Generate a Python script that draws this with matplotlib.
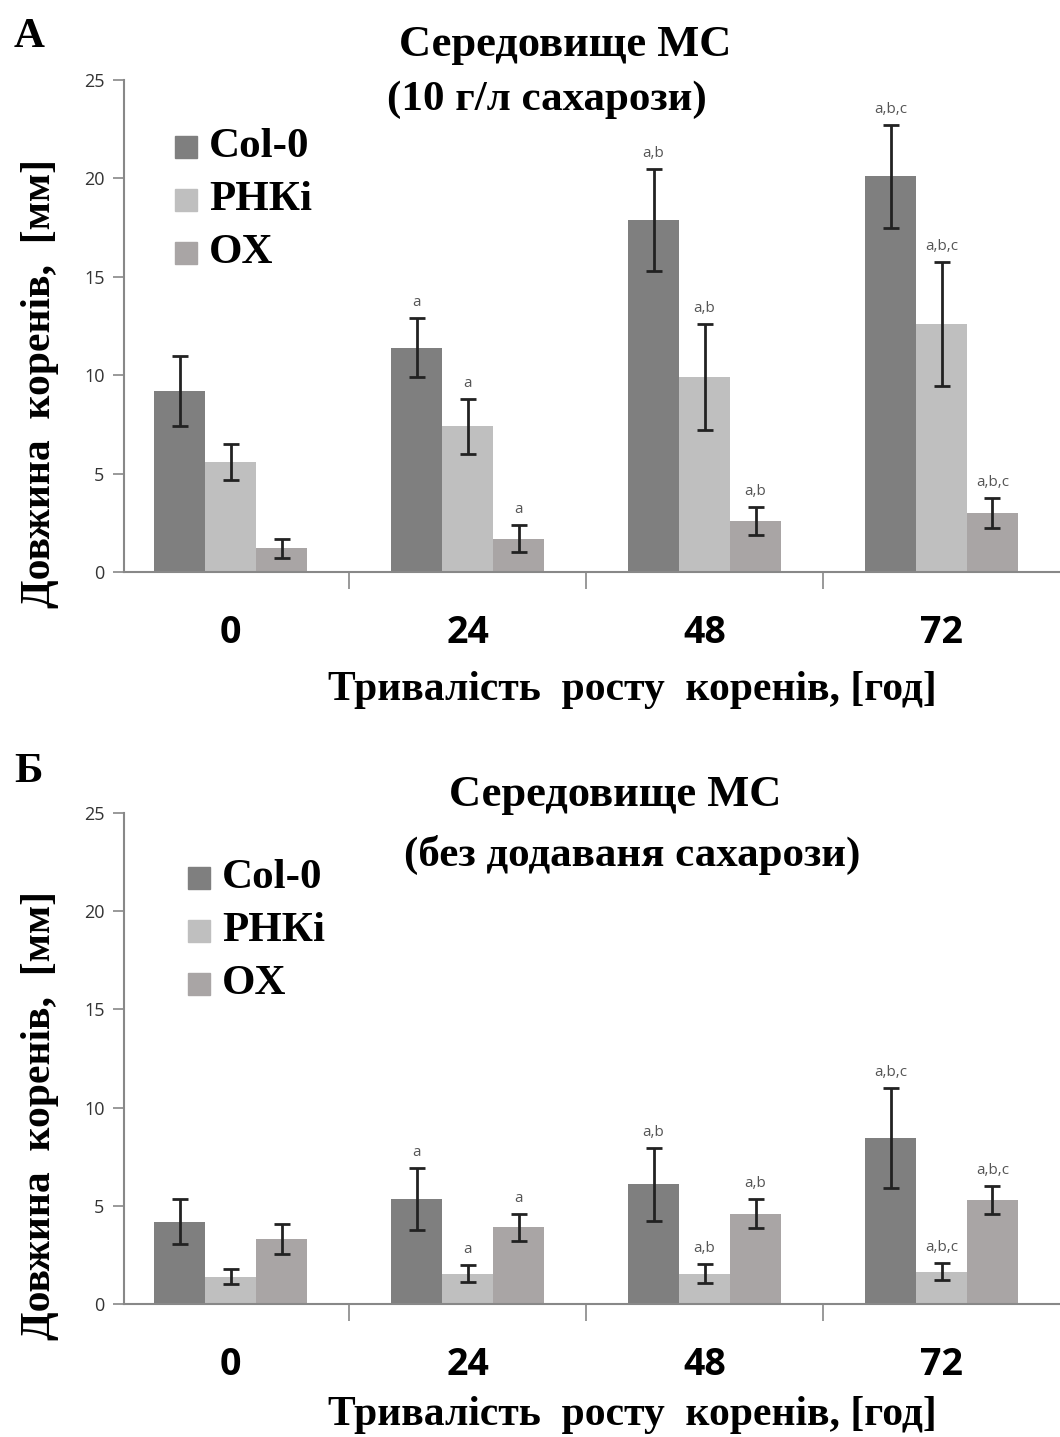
import matplotlib
matplotlib.use("Agg")
import matplotlib.pyplot as plt
import numpy as np

# root length, mm (mean and error) for each line at 0/24/48/72 h
hours = ["0", "24", "48", "72"]
lines = ["Col-0", "РНКi", "OX"]

# MS medium, 10 g/l sucrose
col_a = [9.2, 11.4, 17.9, 20.1]
col_a_err = [1.8, 1.5, 2.6, 2.6]
rnai_a = [5.6, 7.4, 9.9, 12.6]
rnai_a_err = [0.9, 1.4, 2.7, 3.15]
ox_a = [1.2, 1.7, 2.6, 3.0]
ox_a_err = [0.5, 0.7, 0.7, 0.75]

# MS medium, no sucrose
col_b = [4.2, 5.35, 6.1, 8.45]
col_b_err = [1.15, 1.6, 1.85, 2.55]
rnai_b = [1.4, 1.55, 1.55, 1.65]
rnai_b_err = [0.4, 0.45, 0.5, 0.45]
ox_b = [3.3, 3.9, 4.6, 5.3]
ox_b_err = [0.75, 0.7, 0.75, 0.7]

sig = ["", "a", "a,b", "a,b,c"]

colors = ["#7f7f7f", "#bfbfbf", "#a9a5a5"]

W, H = 1060, 1437
fig = plt.figure(figsize=(W / 100, H / 100), dpi=100)

serif = "Liberation Serif"
sans = "Open Sans"


def fx(px):
    return px / W


def fy(py):
    return 1 - py / H


def panel(top_px, bottom_px, series, errs, letter, letter_y, title1, title1_xy,
          title2, title2_xy, leg_x, leg_y, ylab_y, xlab_y):
    ax = fig.add_axes([fx(124), fy(bottom_px), fx(W - 124), (bottom_px - top_px) / H])
    x = np.arange(len(hours))
    bw = 0.215
    for i, (vals, err) in enumerate(zip(series, errs)):
        xs = x + (i - 1) * bw
        ax.bar(xs, vals, bw, color=colors[i], label=lines[i], zorder=2)
        ax.errorbar(xs, vals, yerr=err, fmt="none", ecolor="#222222",
                    elinewidth=2, capsize=6, capthick=2, zorder=3)
        for xi, v, e, s in zip(xs, vals, err, sig):
            if s:
                ax.text(xi, v + e + 0.4, s, ha="center", va="bottom",
                        fontsize=11, color="#555555", family=sans)
    ax.set_xlim(-0.45, 3.5)
    ax.set_ylim(0, 25)
    ax.set_yticks([0, 5, 10, 15, 20, 25])
    ax.tick_params(axis="y", length=8, width=1.2, color="#888888",
                   labelsize=13, labelcolor="#333333", pad=6)
    for lab in ax.get_yticklabels():
        lab.set_family(sans)
    ax.set_xticks(x)
    ax.set_xticklabels(hours, fontsize=27, fontweight="bold", family=sans)
    ax.tick_params(axis="x", length=0, pad=30)
    ax.set_xticks([0.5, 1.5, 2.5], minor=True)
    ax.tick_params(axis="x", which="minor", length=12, width=1.2, color="#888888")
    for sp in ["top", "right"]:
        ax.spines[sp].set_visible(False)
    for sp in ["left", "bottom"]:
        ax.spines[sp].set_color("#888888")
        ax.spines[sp].set_linewidth(1.5)

    fig.text(fx(14), fy(letter_y), letter, fontsize=31, fontweight="bold",
             family=serif, va="center", ha="left")
    fig.text(fx(title1_xy[0]), fy(title1_xy[1]), title1, fontsize=32,
             fontweight="bold", family=serif, ha="center", va="center")
    fig.text(fx(title2_xy[0]), fy(title2_xy[1]), title2, fontsize=31,
             fontweight="bold", family=serif, ha="center", va="center")
    fig.text(fx(40), fy(ylab_y), "Довжина  коренів,  [мм]", rotation=90,
             fontsize=30, fontweight="bold", family=serif, ha="center", va="center")
    fig.text(fx(632), fy(xlab_y), "Тривалість  росту  коренів, [год]",
             fontsize=30, fontweight="bold", family=serif, ha="center", va="center")

    # legend entries
    for i, name in enumerate(lines):
        yy = leg_y + i * 53
        fig.patches.append(plt.Rectangle((fx(leg_x), fy(yy + 11)), fx(22), 22 / H,
                                         transform=fig.transFigure, color=colors[i]))
        fig.text(fx(leg_x + 34), fy(yy), name, fontsize=31, fontweight="bold",
                 family=serif, ha="left", va="center")
    return ax


panel(80, 572, [col_a, rnai_a, ox_a], [col_a_err, rnai_a_err, ox_a_err],
      "А", 37, "Середовище МС", (565, 45), "(10 г/л сахарози)", (547, 100),
      175, 147, 383, 690)
panel(813, 1304, [col_b, rnai_b, ox_b], [col_b_err, rnai_b_err, ox_b_err],
      "Б", 772, "Середовище МС", (615, 795), "(без додаваня сахарози)", (632, 855),
      188, 878, 1115, 1415)

fig.savefig("out.png", dpi=100)
